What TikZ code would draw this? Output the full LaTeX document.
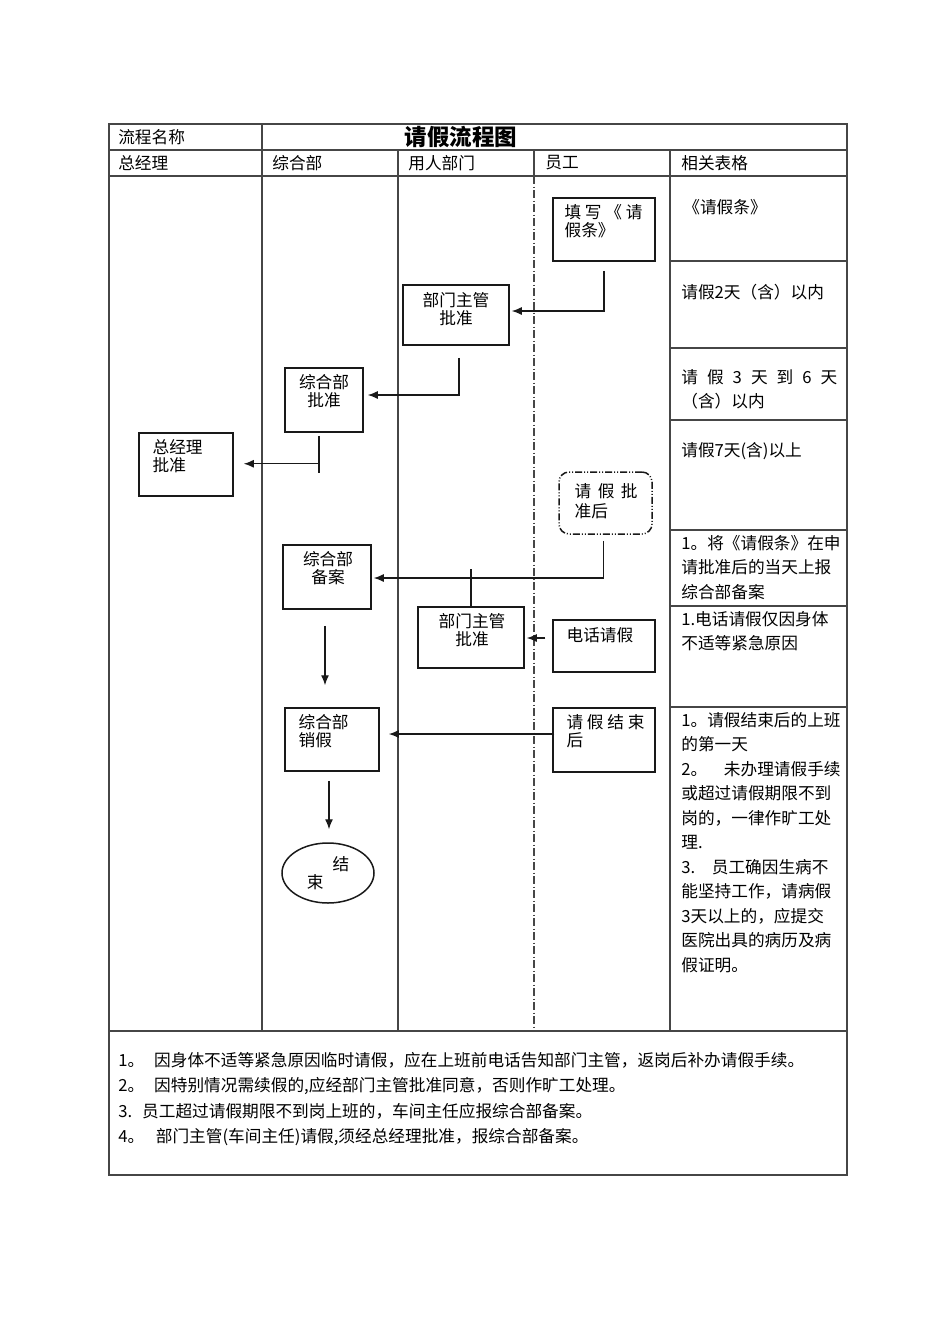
\documentclass[tikz,border=0pt]{standalone}
\usepackage{fontspec}
\setmainfont{Noto Sans CJK SC}
\usepackage{tikz}
\usetikzlibrary{calc,shapes.geometric,arrows.meta}
\usepackage{xcolor}
\definecolor{tablerule}{RGB}{70,70,70}
\definecolor{boxline}{RGB}{25,25,25}
\newcommand{\spread}[1]{\makebox[93.6pt][s]{#1}}

\begin{document}
\begin{tikzpicture}[x=0.6pt, y=-0.6pt,
  grid/.style={draw=tablerule, line width=0.7pt},
  laneline/.style={dash pattern=on 4.8pt off 1.5pt on 0.6pt off 1.5pt},
  twodots/.style={dash pattern=on 4.2pt off 1.2pt on 0.6pt off 1.2pt on 0.6pt off 1.2pt},
  frame/.style={draw=boxline, line width=0.9pt},
  proc/.style 2 args={frame, rectangle, minimum width=#1*0.6pt, minimum height=#2*0.6pt, inner sep=0pt},
  txt/.style={inner sep=0pt, align=left, font=\fontsize{10}{10.5}\selectfont},
  note/.style={inner sep=0pt, anchor=north west, align=left, font=\fontsize{10}{14.7}\selectfont},
  arr/.style={draw=boxline, line width=0.8pt, -{Latex[length=6pt,width=4.8pt]}},
  link/.style={draw=boxline, line width=0.8pt}]
\useasboundingbox (0,0) rectangle (950,1344);
% table
\draw[grid, line width=1pt] (109,124) rectangle (847,1175);
\draw[grid] (109,150) -- (847,150);
\draw[grid, line width=1.1pt] (109,176) -- (847,176);
\draw[grid] (109,1031) -- (847,1031);
\draw[grid] (262,124) -- (262,1031);
\foreach \x in {398,670}
  \draw[grid] (\x,150) -- (\x,1031);
\draw[grid] (534,150) -- (534,176);
\draw[grid, laneline] (534,176) -- (534,1031);
\foreach \y in {261,348,420,530,606,707}
  \draw[grid] (670,\y) -- (847,\y);

% headings
\node[txt, anchor=west] (hname) at (118,137) {流程名称};
\node[inner sep=0pt, font=\fontsize{13.5}{14}\selectfont\bfseries] (htitle) at (461,137) {请假流程图};
\node[txt, anchor=west] (hzjl) at (118,163) {总经理};
\node[txt, anchor=west] (hzhb) at (272,163) {综合部};
\node[txt, anchor=west] (hyrbm) at (408,163) {用人部门};
\node[txt, anchor=west] (hyg) at (545,163) {员工};
\node[txt, anchor=west] (hbg) at (681,163) {相关表格};

% steps
\node[proc={102}{63}] (tianxie) at (604,229.5) {};
\node[txt, anchor=north west] (tianxie-t) at ($(tianxie.north west)+(12,7)$) {填 写 《 请\\假条》};
\node[proc={106}{60}] (pizhun1) at (456,315) {};
\node[txt, anchor=north, align=center] (pizhun1-t) at ($(pizhun1.north)+(0,8)$) {部门主管\\批准};
\node[proc={78}{64}] (zhpizhun) at (324,400) {};
\node[txt, anchor=north, align=center] (zhpizhun-t) at ($(zhpizhun.north)+(0,7)$) {综合部\\批准};
\node[proc={94}{63}] (zjl) at (186,464.5) {};
\node[txt, anchor=north west] (zjl-t) at ($(zjl.north west)+(14,7)$) {总经理\\批准};
\node[proc={93}{62}, rounded corners=6pt, twodots] (pzhou) at (605.5,503) {};
\node[txt, anchor=north west, font=\fontsize{10}{12}\selectfont] (pzhou-t) at ($(pzhou.north west)+(16,12)$) {请\,\ 假\,\ 批\\准后};
\node[proc={88}{64}] (beian) at (327,577) {};
\node[txt, anchor=north, align=center] (beian-t) at ($(beian.north)+(1,7)$) {综合部\\备案};
\node[proc={106}{61}] (pizhun2) at (471,637.5) {};
\node[txt, anchor=north, align=center] (pizhun2-t) at ($(pizhun2.north)+(1,7)$) {部门主管\\批准};
\node[proc={102}{52}] (dianhua) at (604,646) {};
\node[txt, anchor=north west] (dianhua-t) at ($(dianhua.north west)+(14,8)$) {电话请假};
\node[proc={94}{63}] (xiaojia) at (332,739.5) {};
\node[txt, anchor=north west] (xiaojia-t) at ($(xiaojia.north west)+(14,7)$) {综合部\\销假};
\node[proc={102}{64}] (jieshuhou) at (604,740) {};
\node[txt, anchor=north west] (jieshuhou-t) at ($(jieshuhou.north west)+(14,7)$) {请 假 结 束\\后};
\node[ellipse, frame, minimum width=92*0.6pt, minimum height=60*0.6pt, inner sep=0pt,
  align=left, font=\fontsize{10}{10.8}\selectfont] (jieshu) at (328,873) {\hspace*{1.55em}结\\束};

% connectors
\draw[arr, shorten >=1.2pt] ($(tianxie.south)+(0,9)$) |- ($(pizhun1.east)+(0,-4)$);
\draw[arr, shorten >=2.4pt] ($(pizhun1.south)+(3,12)$) |- ($(zhpizhun.east)+(0,-5)$);
\draw[link] ($(zhpizhun.south)+(-5,3)$) -- ($(zhpizhun.south)+(-5,40)$);
\coordinate (tjoin) at ($(zhpizhun.south)+(-5,31)$);
\draw[arr, shorten >=6pt] (tjoin) -- (tjoin -| zjl.east);
\draw[arr, shorten >=1.2pt] ($(pzhou.south)+(-2,6)$) |- ($(beian.east)+(0,1)$);
\draw[link] (pizhun2.north) -- ++(0,-37);
\coordinate (dh) at ($(dianhua.west)+(-7,-8)$);
\draw[arr, shorten >=1.2pt] (dh) -- (dh -| pizhun2.east);
\draw[arr] ($(beian.south)+(-2,16)$) -- ($(xiaojia.north)+(-7,-22)$);
\coordinate (jh) at ($(jieshuhou.west)+(2,-6)$);
\draw[arr, shorten >=5.4pt] (jh) -- (jh -| xiaojia.east);
\draw[arr] ($(xiaojia.south)+(-3,9)$) -- ($(jieshu.north)+(1,-13)$);

% related forms
\node[note] (f1) at (683,199) {《请假条》};
\node[note] (f2) at (681,284) {请假2天（含）以内};
\node[note] (f3) at (681,369) {\spread{请 假 3 天 到 6 天}\\（含）以内};
\node[note] (f4) at (681,442) {请假7天(含)以上};
\node[note] (f5) at (681,535) {1。将《请假条》在申\\请批准后的当天上报\\综合部备案};
\node[note] (f6) at (681,611) {1.电话请假仅因身体\\不适等紧急原因};
\node[note] (f7) at (681,712) {1。请假结束后的上班\\的第一天\\2。\quad 未办理请假手续\\或超过请假期限不到\\岗的，一律作旷工处\\理.\\3.\quad 员工确因生病不\\能坚持工作，请病假\\3天以上的，应提交\\医院出具的病历及病\\假证明。};

% remarks
\node[note, font=\fontsize{10}{15.2}\selectfont] (remarks) at (118,1052) {1。\hspace{0.6em}因身体不适等紧急原因临时请假，应在上班前电话告知部门主管，返岗后补办请假手续。\\2。\hspace{0.6em}因特别情况需续假的,应经部门主管批准同意，否则作旷工处理。\\3.\hspace{0.6em}员工超过请假期限不到岗上班的，车间主任应报综合部备案。\\4。\hspace{0.7em}部门主管(车间主任)请假,须经总经理批准，报综合部备案。};
\end{tikzpicture}
\end{document}
